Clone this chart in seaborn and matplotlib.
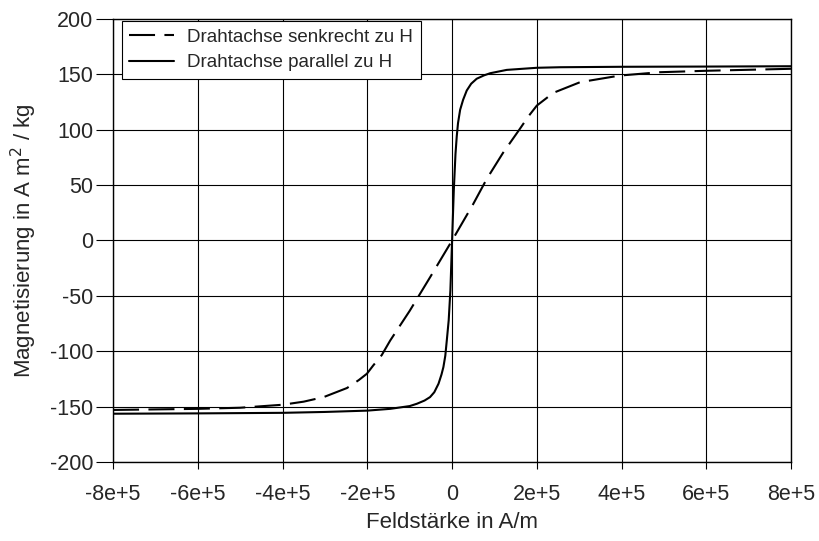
import matplotlib
matplotlib.use("Agg")
import matplotlib.pyplot as plt
import seaborn as sns
import pandas as pd

# Magnetisierungskurven (Feldstärke in A/m, Magnetisierung in A m^2/kg)
h_senkrecht = [-8e5, -6e5, -5e5, -4e5, -3.5e5, -3.03e5, -2.48e5, -2.2e5, -2.01e5, -1.86e5,
               -1.66e5, -1.46e5, -1e5, -5e4, 0, 5e4, 8.2e4, 1.2e5, 1.6e5, 1.8e5,
               2e5, 2.39e5, 3.02e5, 3.96e5, 4.9e5, 6e5, 8e5]
m_senkrecht = [-153, -152, -151, -148.3, -145.5, -141.4, -133.2, -126, -120.3, -112.8,
               -103.5, -90.3, -63.5, -32, 0, 33, 55.7, 79, 100.8, 112,
               121.8, 133.3, 142.9, 148.9, 151.9, 153.2, 155]

h_parallel = [-8e5, -6e5, -4e5, -3e5, -2e5, -1.46e5, -1e5, -8.3e4, -6.5e4, -5.2e4,
              -4.2e4, -3.2e4, -2.5e4, -2.05e4, -1.6e4, -1.25e4, -8e3, -4e3, 0, 4e3,
              8e3, 1.1e4, 1.4e4, 1.9e4, 2.6e4, 3.46e4, 4.5e4, 5.8e4, 7.5e4, 9e4,
              1.29e5, 2e5, 2.55e5, 4e5, 6e5, 8e5]
m_parallel = [-156.4, -156.1, -155.6, -154.8, -153.6, -152, -149.5, -147.4, -144.5, -141.4,
              -137, -129.3, -121, -114.3, -104, -90.3, -72, -45, 0, 45,
              78, 94, 106, 118, 127, 135.4, 141.5, 146, 149, 151,
              154, 155.9, 156.4, 156.8, 157, 157.3]

label_senkrecht = "Drahtachse senkrecht zu H"
label_parallel = "Drahtachse parallel zu H"

x_ticks = [-8e5, -6e5, -4e5, -2e5, 0, 2e5, 4e5, 6e5, 8e5]
x_tick_labels = ["-8e+5", "-6e+5", "-4e+5", "-2e+5", "0", "2e+5", "4e+5", "6e+5", "8e+5"]
y_ticks = [-200, -150, -100, -50, 0, 50, 100, 150, 200]

df = pd.concat([
    pd.DataFrame({"H": h_senkrecht, "M": m_senkrecht, "Kurve": label_senkrecht}),
    pd.DataFrame({"H": h_parallel, "M": m_parallel, "Kurve": label_parallel}),
], ignore_index=True)

sns.set_theme(style="white")
plt.rcParams["font.family"] = ["Liberation Sans", "DejaVu Sans"]
plt.rcParams["axes.unicode_minus"] = False

fig = plt.figure(figsize=(8.19, 5.41), dpi=100)
ax = fig.add_axes([0.138, 0.146, 0.828, 0.819])

sns.lineplot(data=df, x="H", y="M", style="Kurve",
             style_order=[label_senkrecht, label_parallel],
             dashes={label_senkrecht: (12.5, 4.5), label_parallel: ""},
             color="black", linewidth=1.5, estimator=None, sort=False, ax=ax)

ax.set_xlim(-8e5, 8e5)
ax.set_ylim(-200, 200)
ax.set_xticks(x_ticks)
ax.set_xticklabels(x_tick_labels)
ax.set_yticks(y_ticks)
ax.grid(True, color="black", linewidth=0.8)
ax.set_axisbelow(True)

for s in ax.spines.values():
    s.set_color("black")
    s.set_linewidth(1.0)

ax.tick_params(axis="both", which="both", direction="out", width=0.8,
               color="black", labelsize=15.5, bottom=True, left=True)
ax.tick_params(axis="x", length=5, pad=11)
ax.tick_params(axis="y", length=12, pad=2)
ax.set_xlabel("Feldstärke in A/m", fontsize=16, labelpad=5)
ax.set_ylabel("Magnetisierung in A m$^2$ / kg", fontsize=16, labelpad=8)

leg = ax.legend(loc="upper left", bbox_to_anchor=(0.013, 0.995), fontsize=13.5,
                frameon=True, fancybox=False, framealpha=1, edgecolor="black",
                borderpad=0.4, handlelength=2.4, handletextpad=0.7,
                labelspacing=0.45, borderaxespad=0.0, title=None)
leg.get_frame().set_linewidth(0.8)

fig.savefig("out.png", dpi=100)
